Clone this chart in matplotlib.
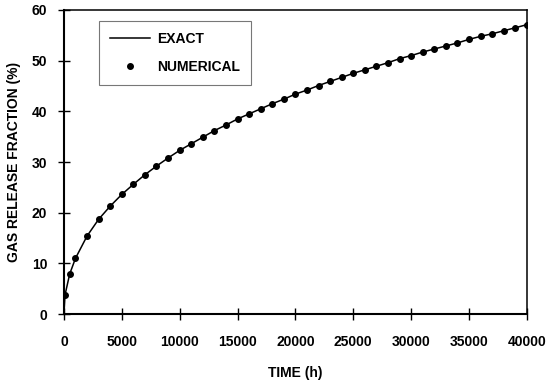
import matplotlib
matplotlib.use("Agg")
import matplotlib.pyplot as plt

plt.rcParams['font.family'] = ['Liberation Sans', 'DejaVu Sans']
plt.rcParams['font.weight'] = 'bold'

# numerical solution
num_time = [100, 500, 1000, 2000, 3000, 4000, 5000, 6000, 7000, 8000, 9000, 10000,
            11000, 12000, 13000, 14000, 15000, 16000, 17000, 18000, 19000, 20000,
            21000, 22000, 23000, 24000, 25000, 26000, 27000, 28000, 29000, 30000,
            31000, 32000, 33000, 34000, 35000, 36000, 37000, 38000, 39000, 40000]
num_frac = [3.8, 7.9, 11.0, 15.4, 18.7, 21.3, 23.6, 25.6, 27.5, 29.2, 30.8, 32.3,
            33.6, 34.9, 36.2, 37.3, 38.5, 39.5, 40.5, 41.5, 42.4, 43.4,
            44.2, 45.1, 45.9, 46.7, 47.5, 48.2, 48.9, 49.6, 50.4, 51.0,
            51.7, 52.3, 52.9, 53.5, 54.2, 54.8, 55.3, 55.9, 56.5, 57.1]

# exact curve starts at the origin
exact_time = [0] + num_time
exact_frac = [0.0] + num_frac

fig = plt.figure(figsize=(5.46, 3.84), dpi=100)
ax = fig.add_axes([0.117, 0.182, 0.848, 0.792])

ax.plot(exact_time, exact_frac, color='black', linewidth=1.1, label='EXACT')
ax.plot(num_time, num_frac, linestyle='none', marker='o', markersize=4,
        color='black', label='NUMERICAL')

ax.set_xlim(0, 40000)
ax.set_ylim(0, 60)
ax.set_xticks(range(0, 40001, 5000))
ax.set_yticks(range(0, 61, 10))
ax.tick_params(direction='inout', length=8, width=1, labelsize=10)
ax.tick_params(axis='x', pad=11)
ax.tick_params(axis='y', pad=8)
for s in ax.spines.values():
    s.set_linewidth(1.1)
ax.spines['left'].set_linewidth(1.5)
ax.spines['bottom'].set_linewidth(1.5)

ax.set_xlabel('TIME (h)', fontsize=10, fontweight='bold', labelpad=12)
ax.set_ylabel('GAS RELEASE FRACTION (%)', fontsize=10, fontweight='bold', labelpad=8)

leg = ax.legend(loc='upper left', bbox_to_anchor=(0.075, 0.965), fontsize=10,
                fancybox=False, frameon=True, handlelength=2.9, borderpad=0.8,
                labelspacing=1.0, handletextpad=0.5, borderaxespad=0)
leg.get_frame().set_edgecolor('#555555')
leg.get_frame().set_linewidth(0.8)

fig.savefig('out.png', dpi=100)
